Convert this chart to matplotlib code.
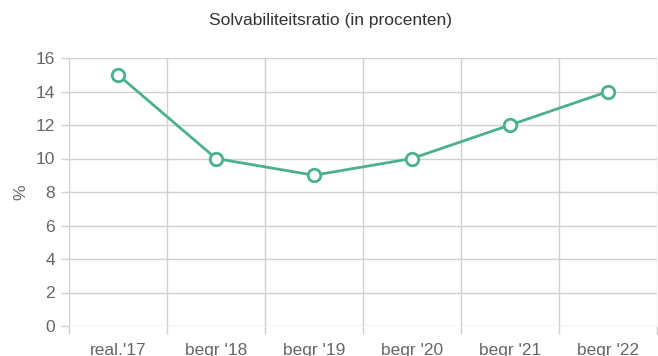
import matplotlib
matplotlib.use("Agg")
import matplotlib.pyplot as plt
import numpy as np

title = "Solvabiliteitsratio (in procenten)"
categories = ["real.'17", "begr '18", "begr '19", "begr '20", "begr '21", "begr '22"]
values = [15, 10, 9, 10, 12, 14]
y_ticks = [0, 2, 4, 6, 8, 10, 12, 14, 16]

line_color = "#4bb08b"
text_color = "#666666"
grid_color = "#d0d0d0"

plt.rcParams["font.family"] = ["Liberation Sans", "DejaVu Sans"]

fig = plt.figure(figsize=(6.58, 3.56), dpi=100)
ax = fig.add_axes([69 / 658, 1 - 326 / 356, 588 / 658, 268 / 356])

x = np.arange(len(categories))
ax.plot(x, values, color=line_color, lw=2, marker="o", ms=9,
        mfc="white", mec=line_color, mew=2, zorder=3, clip_on=False)

ax.set_xlim(-0.5, len(categories) - 0.5)
ax.set_ylim(0, 16)
ax.set_yticks(y_ticks)
ax.set_xticks(x)
ax.set_xticklabels(categories)
ax.set_xticks(np.arange(len(categories) + 1) - 0.5, minor=True)

ax.grid(False)
for yt in y_ticks:
    ax.axhline(yt, color=grid_color, lw=1, zorder=1)
for xb in np.arange(len(categories) + 1) - 0.5:
    ax.axvline(xb, color=grid_color, lw=1, zorder=1)

for s in ax.spines.values():
    s.set_visible(False)

ax.tick_params(axis="x", which="major", length=0, pad=12, labelsize=12.5, labelcolor=text_color)
ax.tick_params(axis="x", which="minor", length=6, color=grid_color, width=1)
ax.tick_params(axis="y", length=6, color=grid_color, width=1, pad=4, labelsize=12.5, labelcolor=text_color)

ax.set_ylabel("%", color=text_color, fontsize=12.5, labelpad=5)
fig.text(0.503, 1 - 21 / 356, title, ha="center", va="center", fontsize=12.5, color="#333333")

fig.savefig("out.png", dpi=100)
